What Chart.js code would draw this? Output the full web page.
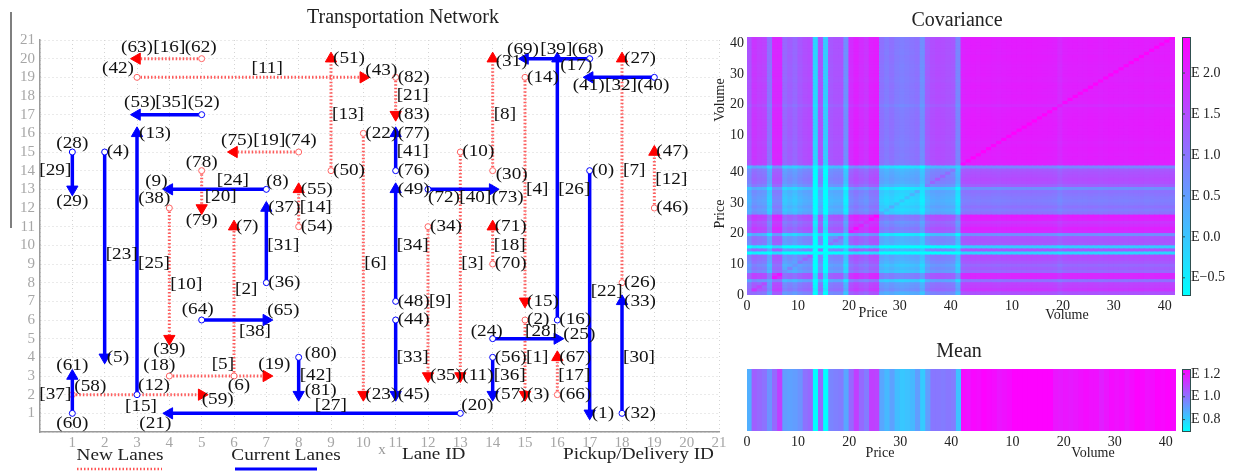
<!DOCTYPE html>
<html>
<head>
<meta charset="utf-8">
<script src="https://cdn.jsdelivr.net/npm/chart.js@4.4.1/dist/chart.umd.min.js"></script>
<style>
  body { margin: 0; background: #fff; }
  #wrap { position: relative; width: 1233px; height: 471px; overflow: hidden; }
  canvas { position: absolute; }
</style>
</head>
<body>
<div id="wrap">
  <canvas id="net" width="735" height="471" style="left:0;top:0"></canvas>
  <canvas id="cov" width="533" height="330" style="left:700px;top:0"></canvas>
  <canvas id="mean" width="533" height="141" style="left:700px;top:330px"></canvas>
</div>
<script>
// pickup / delivery points, index = node id
var nodeX = [17,17,15,15,2,2,6,6,7,4, 13,13,3,3,15,15,16,16,4,7,
             13,4,10,10,14,16,18,18,1,1, 14,14,18,18,12,12,7,7,4,4,
             19,17,3,10,11,11,19,19,11,11, 9,9,5,3,8,8,14,14,1,5,
             1,1,5,3,5,7,16,16,17,15, 14,14,12,14,8,6,11,11,5,5,
             8,8,11,11];
var nodeY = [14,1,6,2,15,4,3,11,13,13, 15,3,2,16,19,7,6,20,3,3,
             1,1,16,2,5,5,8,20,15,13, 14,20,1,7,11,3,8,12,12,5,
             19,19,19,19,6,2,12,15,7,13, 14,20,17,17,11,13,4,2,2,2,
             1,3,20,20,6,6,2,4,20,20, 9,11,13,13,15,15,14,16,14,12,
             4,2,19,17];

// lanes: id, origin node, destination node, kind
var laneIds  = [22,1,23,2,24,3,25,4,26,5,27,6,28,7,29,8,30,9,31,10,32,11,33,12,34,13,35,14,36,15,37,16,38,17,39,18,40,19,41,20,42,21];
var laneFrom = [0,2,4,6,8,10,12,14,16,18,20,22,24,26,28,30,32,34,36,38,40,42,44,46,48,50,52,54,56,58,60,62,64,66,68,70,72,74,76,78,80,82];
var laneTo   = [1,3,5,7,9,11,13,15,17,19,21,23,25,27,29,31,33,35,37,39,41,43,45,47,49,51,53,55,57,59,61,63,65,67,69,71,73,75,77,79,81,83];
var laneKind = ['current','new','current','new','current','new','current','new','current','new','current','new','current','new',
                'current','new','current','new','current','new','current','new','current','new','current','new','current','new',
                'current','new','current','new','current','new','current','new','current','new','current','new','current','new'];

var gridTicks = [0,1,2,3,4,5,6,7,8,9,10,11,12,13,14,15,16,17,18,19,20,21];

// covariance level per index (0-41 price, 42-83 volume)
var covLevel = [0.38,0.73,0.63,0.58,0.00,0.92,0.92,0.12,0.25,0.12,
                0.31,0.43,0.48,-1.22,0.38,-1.10,0.31,0.38,0.38,-0.37,
                0.85,1.00,0.85,0.75,1.00,1.05,0.00,-0.12,0.00,-0.12,
                -0.17,-0.12,-0.06,0.00,-0.37,0.25,0.43,0.48,0.43,0.38,
                0.31,-0.25,
                0.99,1.02,1.05,1.03,1.05,1.04,1.02,1.00,1.03,1.04,
                1.06,1.05,1.06,1.07,1.06,1.05,1.04,1.03,1.01,0.89,
                1.00,1.02,1.03,1.01,1.02,1.04,1.03,1.00,1.02,1.04,
                1.03,1.02,1.01,1.03,1.04,1.05,1.02,1.03,1.05,1.04,
                1.05,1.03];
var covDiagonalLift = 0.35;
var covRange = [-0.71, 2.44];
var covBarTicks = [2.0, 1.5, 1.0, 0.5, 0.0, -0.5];

var meanValues = [0.87,1.04,1.02,1.00,0.93,1.02,1.11,0.91,0.90,0.91,
                  0.93,1.00,1.02,0.70,1.02,0.70,0.96,0.97,0.98,0.89,
                  1.02,1.11,1.02,0.98,1.11,1.10,0.89,0.85,0.90,0.84,
                  0.82,0.83,0.85,0.91,0.81,0.91,0.99,0.99,0.98,0.99,
                  0.98,0.83,
                  1.22,1.21,1.23,1.22,1.24,1.23,1.22,1.20,1.21,1.22,
                  1.24,1.24,1.24,1.24,1.24,1.24,1.24,1.24,1.20,1.19,
                  1.20,1.19,1.20,1.21,1.22,1.21,1.21,1.18,1.20,1.22,
                  1.21,1.22,1.20,1.22,1.24,1.23,1.21,1.22,1.24,1.23,
                  1.24,1.23];
var meanRange = [0.70, 1.244];
var meanBarTicks = [1.2, 1.0, 0.8];

var heatTicks = [0,10,20,30,40,52,62,72,82];

// label placement: [side, dx, dy] in pixels
var nodeLabelAt = {
  63:['c',0,-11], 62:['c',-1,-11], 42:['c',-19,-9], 43:['r',2,-7], 53:['c',3,-12], 52:['c',2,-12],
  28:['c',0,-8], 29:['c',0,12], 75:['c',3,-11], 74:['c',2,-11], 78:['c',0,-8], 79:['c',0,13],
  9:['c',-13,-8], 8:['c',11,-8], 38:['c',-15,-9], 39:['c',0,11], 64:['c',-4,-10], 65:['c',17,-9],
  18:['c',-10,-10], 19:['c',8,-11], 6:['c',5,10], 58:['c',18,-8], 59:['c',16,5], 12:['c',17,-9],
  61:['c',0,-10], 60:['c',0,10], 80:['r',6,-4], 81:['r',6,-4], 20:['r',1,-8], 21:['c',-14,10],
  72:['c',16,8], 73:['c',15,8], 31:['r',3,3], 30:['r',3,4], 69:['c',-2,-9], 68:['c',-2,-9],
  17:['r',3,7], 41:['c',-1,8], 40:['c',-1,8], 24:['c',-6,-7], 25:['r',6,-4]
};
var laneLabelAt = {
  29:['l',-1,0], 37:['l',-1,0], 10:['r',1,11], 2:['r',1,-12], 20:['r',3,7],
  16:['c',0,-11], 11:['c',17,-9], 35:['c',2,-12], 19:['c',3,-11], 24:['c',15,-9], 38:['c',21,12],
  5:['c',5,-11], 15:['c',4,12], 27:['c',16,-8], 40:['c',15,8], 39:['c',-1,-9], 32:['c',-1,8], 28:['c',16,-7]
};

var SERIF = '"Liberation Serif", "Times New Roman", serif';

function stretchText(ctx, text, px, py, side, sx) {
  ctx.save();
  ctx.translate(px, py);
  ctx.scale(sx || 1.2, 1);
  ctx.textAlign = side === 'r' ? 'left' : (side === 'l' ? 'right' : 'center');
  ctx.fillText(text, 0, 0);
  ctx.restore();
}

function coolColor(v, lo, hi) {
  var t = (v - lo) / (hi - lo);
  t = Math.max(0, Math.min(1, t));
  return 'rgb(' + Math.round(255 * t) + ',' + Math.round(255 * (1 - t)) + ',255)';
}

// ---------- transportation network ----------
var laneSets = laneIds.map(function (lid, p) {
  var a = laneFrom[p], b = laneTo[p];
  var isNew = laneKind[p] === 'new';
  var col = isNew ? '#ff0000' : '#0000ff';
  var dx = nodeX[b] - nodeX[a], dy = nodeY[b] - nodeY[a];
  var rot = dx > 0 ? 90 : (dx < 0 ? 270 : (dy > 0 ? 0 : 180));
  return {
    data: [{x: nodeX[a], y: nodeY[a]}, {x: nodeX[b], y: nodeY[b]}],
    showLine: true,
    borderColor: isNew ? 'rgba(255,40,40,0.75)' : '#0000ff',
    borderWidth: isNew ? 3 : 3.5,
    borderDash: isNew ? [1.5, 2] : [],
    pointStyle: ['circle', 'triangle'],
    pointRadius: [3, 6.5],
    pointRotation: [0, rot],
    pointBackgroundColor: ['#ffffff', col],
    pointBorderColor: [isNew ? '#ff6666' : '#0000ff', col],
    pointBorderWidth: [1, 1],
    order: isNew ? 2 : 1
  };
});

var netDecor = {
  id: 'netDecor',
  afterDatasetsDraw: function (chart) {
    var ctx = chart.ctx, xs = chart.scales.x, ys = chart.scales.y;
    ctx.save();
    ctx.fillStyle = '#111';
    ctx.font = '16px ' + SERIF;
    ctx.textBaseline = 'middle';
    nodeX.forEach(function (nx, id) {
      var s = nodeLabelAt[id] || ['r', 2, 0];
      stretchText(ctx, '(' + id + ')', xs.getPixelForValue(nx) + s[1], ys.getPixelForValue(nodeY[id]) + s[2], s[0]);
    });
    laneIds.forEach(function (lid, p) {
      var a = laneFrom[p], b = laneTo[p];
      var vertical = nodeX[a] === nodeX[b];
      var s = laneLabelAt[lid] || (vertical ? ['r', 1, 0] : ['c', 0, -10]);
      var mx = (nodeX[a] + nodeX[b]) / 2, my = (nodeY[a] + nodeY[b]) / 2;
      stretchText(ctx, '[' + lid + ']', xs.getPixelForValue(mx) + s[1], ys.getPixelForValue(my) + s[2], s[0]);
    });
    ctx.restore();
  },
  afterDraw: function (chart) {
    var ctx = chart.ctx;
    ctx.save();
    ctx.textBaseline = 'middle';
    ctx.fillStyle = '#222';
    ctx.font = '20px ' + SERIF;
    ctx.textAlign = 'center';
    ctx.fillText('Transportation Network', 403, 18);

    // legend row
    ctx.font = '16px ' + SERIF;
    ctx.fillStyle = '#222';
    stretchText(ctx, 'New Lanes', 120, 456, 'c');
    stretchText(ctx, 'Current Lanes', 286, 456, 'c');
    stretchText(ctx, 'Lane ID', 402, 455, 'r');
    stretchText(ctx, 'Pickup/Delivery ID', 563, 455, 'r');
    stretchText(ctx, '[\u00b7]', 412, 479, 'c');
    stretchText(ctx, '(\u00b7)', 575, 479, 'c');
    ctx.fillStyle = '#999';
    ctx.font = '15px ' + SERIF;
    ctx.textAlign = 'center';
    ctx.fillText('x', 382, 450);

    ctx.lineWidth = 2.5;
    ctx.strokeStyle = 'rgba(255,40,40,0.8)';
    ctx.setLineDash([1.5, 2]);
    ctx.beginPath(); ctx.moveTo(77, 469); ctx.lineTo(162, 469); ctx.stroke();
    ctx.setLineDash([]);
    ctx.lineWidth = 3;
    ctx.strokeStyle = '#0000ff';
    ctx.beginPath(); ctx.moveTo(235, 469); ctx.lineTo(317, 469); ctx.stroke();

    // cropped frame remnant on the left edge
    ctx.strokeStyle = '#555';
    ctx.lineWidth = 1.5;
    ctx.beginPath(); ctx.moveTo(11, 12); ctx.lineTo(11, 228); ctx.stroke();
    ctx.restore();
  }
};

var netTickFont = {family: SERIF, size: 15};

new Chart(document.getElementById('net'), {
  type: 'scatter',
  data: {datasets: laneSets},
  options: {
    responsive: false,
    animation: false,
    layout: {padding: {top: 40, right: 16, left: 0, bottom: 0}},
    plugins: {legend: {display: false}, tooltip: {enabled: false}},
    scales: {
      x: {
        type: 'linear', min: 0, max: 21,
        afterBuildTicks: function (s) { s.ticks = gridTicks.map(function (v) { return {value: v}; }); },
        afterFit: function (s) { s.height = 39; },
        grid: {color: '#d4d4d4', lineWidth: 1, drawTicks: false},
        border: {color: '#9a9a9a', width: 1.5, dash: [1, 3]},
        ticks: {callback: function (v) { return v === 0 ? '' : v; }, font: netTickFont, color: '#a6a6a6',
                padding: 2, autoSkip: false, maxRotation: 0}
      },
      y: {
        type: 'linear', min: 0, max: 21,
        afterBuildTicks: function (s) { s.ticks = gridTicks.map(function (v) { return {value: v}; }); },
        afterFit: function (s) { s.width = 40; },
        grid: {color: '#d4d4d4', lineWidth: 1, drawTicks: false},
        border: {color: '#9a9a9a', width: 1.5, dash: [1, 3]},
        ticks: {callback: function (v) { return v === 0 ? '' : v; }, font: netTickFont, color: '#a6a6a6',
                padding: 5, autoSkip: false}
      }
    }
  },
  plugins: [netDecor]
});

// ---------- heatmaps ----------
function heatLabel(v) { return v < 42 ? String(v) : String(v - 42); }
var heatFont = {family: SERIF, size: 14};

function heatAxis(extra) {
  var ax = {
    type: 'linear', min: 0, max: 84, offset: false,
    afterBuildTicks: function (s) { s.ticks = heatTicks.map(function (v) { return {value: v}; }); },
    grid: {display: false, drawTicks: false},
    border: {display: false},
    ticks: {callback: heatLabel, font: heatFont, color: '#222', autoSkip: false, maxRotation: 0, padding: 3}
  };
  for (var k in extra) ax[k] = extra[k];
  return ax;
}

function heatDecor(opt) {
  return {
    id: 'heatDecor',
    afterDraw: function (chart) {
      var ctx = chart.ctx, ca = chart.chartArea;
      ctx.save();
      ctx.textBaseline = 'middle';
      ctx.textAlign = 'center';
      ctx.fillStyle = '#222';
      ctx.font = '20px ' + SERIF;
      ctx.fillText(opt.title, opt.titleAt[0], opt.titleAt[1]);

      var bx = ca.right + opt.barGap, bw = 8, h = ca.bottom - ca.top;
      var g = ctx.createLinearGradient(0, ca.bottom, 0, ca.top);
      g.addColorStop(0, 'rgb(0,255,255)');
      g.addColorStop(1, 'rgb(255,0,255)');
      ctx.fillStyle = g;
      ctx.fillRect(bx, ca.top, bw, h);
      ctx.strokeStyle = '#2f4f4f';
      ctx.lineWidth = 1;
      ctx.strokeRect(bx + 0.5, ca.top + 0.5, bw, h);
      ctx.font = '14px ' + SERIF;
      ctx.textAlign = 'left';
      ctx.fillStyle = '#222';
      opt.barTicks.forEach(function (v) {
        var py = ca.top + (opt.range[1] - v) / (opt.range[1] - opt.range[0]) * h;
        ctx.beginPath(); ctx.moveTo(bx, py); ctx.lineTo(bx + 3, py); ctx.stroke();
        var txt = v < 0 ? 'E\u2212' + Math.abs(v).toFixed(1) : 'E ' + v.toFixed(1);
        ctx.fillText(txt, bx + bw + 1, py);
      });

      ctx.font = '14px ' + SERIF;
      ctx.textAlign = 'center';
      opt.xTitles.forEach(function (t) { ctx.fillText(t[0], t[1], t[2]); });
      opt.yTitles.forEach(function (t) {
        ctx.save();
        ctx.translate(t[1], t[2]);
        ctx.rotate(-Math.PI / 2);
        ctx.fillText(t[0], 0, 0);
        ctx.restore();
      });
      ctx.restore();
    }
  };
}

var covSets = [];
for (var i = 0; i < covLevel.length; i++) {
  var pts = [], cols = [];
  for (var j = 0; j < covLevel.length; j++) {
    var v = covLevel[i] + covLevel[j] + (i === j ? covDiagonalLift : 0);
    pts.push({x: j + 0.5, y: [i, i + 1]});
    cols.push(coolColor(v, covRange[0], covRange[1]));
  }
  covSets.push({data: pts, backgroundColor: cols, borderWidth: 0, grouped: false,
                barPercentage: 1, categoryPercentage: 1, inflateAmount: 0.5});
}

new Chart(document.getElementById('cov'), {
  type: 'bar',
  data: {datasets: covSets},
  options: {
    responsive: false,
    animation: false,
    layout: {padding: {top: 37, right: 58, left: 0, bottom: 0}},
    plugins: {legend: {display: false}, tooltip: {enabled: false}},
    scales: {
      x: heatAxis({afterFit: function (s) { s.height = 35; }}),
      y: heatAxis({afterFit: function (s) { s.width = 47; }})
    }
  },
  plugins: [heatDecor({
    title: 'Covariance', titleAt: [257, 21], barGap: 7, barTicks: covBarTicks, range: covRange,
    xTitles: [['Price', 173, 313], ['Volume', 367, 315]],
    yTitles: [['Volume', 20, 100], ['Price', 20, 214]]
  })]
});

var meanPts = [], meanCols = [];
meanValues.forEach(function (m, j) {
  meanPts.push({x: j + 0.5, y: [0, 1]});
  meanCols.push(coolColor(m, meanRange[0], meanRange[1]));
});

new Chart(document.getElementById('mean'), {
  type: 'bar',
  data: {datasets: [{data: meanPts, backgroundColor: meanCols, borderWidth: 0, grouped: false,
                     barPercentage: 1, categoryPercentage: 1, inflateAmount: 0.5}]},
  options: {
    responsive: false,
    animation: false,
    layout: {padding: {top: 39, right: 57, left: 47, bottom: 0}},
    plugins: {legend: {display: false}, tooltip: {enabled: false}},
    scales: {
      x: heatAxis({afterFit: function (s) { s.height = 40; }}),
      y: {type: 'linear', min: 0, max: 1, display: false}
    }
  },
  plugins: [heatDecor({
    title: 'Mean', titleAt: [259, 22], barGap: 6, barTicks: meanBarTicks, range: meanRange,
    xTitles: [['Price', 180, 123], ['Volume', 393, 123]],
    yTitles: []
  })]
});
</script>
</body>
</html>
